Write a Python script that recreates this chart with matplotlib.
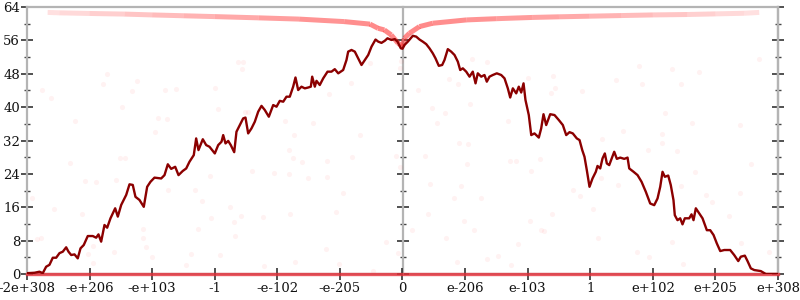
import matplotlib
matplotlib.use("Agg")
import matplotlib.pyplot as plt
from matplotlib.collections import LineCollection
import numpy as np

plt.rcParams['font.family'] = ['DejaVu Serif']

# x is in "ordinal" units: one unit per labelled tick, 0 in the middle
tick_pos = [-6, -5, -4, -3, -2, -1, 0, 1, 2, 3, 4, 5, 6]
tick_labels = ['-2e+308', '-e+206', '-e+103', '-1', '-e-102', '-e-205', '0',
               'e-206', 'e-103', '1', 'e+102', 'e+205', 'e+308']

# main dark red trace
walk_x = [-5.997, -5.880, -5.801, -5.748, -5.694, -5.641, -5.588, -5.534, -5.481, -5.428,
          -5.374, -5.337, -5.294, -5.241, -5.189, -5.145, -5.093, -5.029, -4.949, -4.895,
          -4.858, -4.815, -4.762, -4.719, -4.666, -4.629, -4.591, -4.549, -4.495, -4.415,
          -4.362, -4.310, -4.267, -4.203, -4.134, -4.080, -4.027, -3.963, -3.856, -3.803,
          -3.750, -3.696, -3.632, -3.579, -3.511, -3.456, -3.404, -3.335, -3.297, -3.260,
          -3.191, -3.137, -3.084, -3.031, -2.999, -2.945, -2.892, -2.865, -2.828, -2.785,
          -2.744, -2.689, -2.653, -2.600, -2.546, -2.509, -2.466, -2.413, -2.360, -2.306,
          -2.253, -2.200, -2.136, -2.066, -2.013, -1.961, -1.906, -1.854, -1.801, -1.747,
          -1.710, -1.667, -1.614, -1.561, -1.507, -1.465, -1.443, -1.401, -1.374, -1.322,
          -1.267, -1.198, -1.135, -1.082, -1.027, -0.948, -0.895, -0.868, -0.815, -0.762,
          -0.708, -0.655, -0.602, -0.548, -0.495, -0.431, -0.388, -0.336, -0.283, -0.240,
          -0.176, -0.123, -0.080, -0.027, 0.0, 0.032, 0.085, 0.165, 0.219, 0.272,
          0.324, 0.379, 0.431, 0.484, 0.527, 0.580, 0.634, 0.671, 0.724, 0.778,
          0.831, 0.884, 0.922, 0.964, 1.018, 1.071, 1.123, 1.167, 1.203, 1.258,
          1.310, 1.347, 1.390, 1.443, 1.507, 1.577, 1.630, 1.683, 1.721, 1.763,
          1.817, 1.858, 1.897, 1.934, 1.965, 2.018, 2.057, 2.109, 2.178, 2.216,
          2.253, 2.296, 2.360, 2.429, 2.498, 2.562, 2.616, 2.669, 2.721, 2.785,
          2.829, 2.872, 2.908, 2.945, 2.988, 3.036, 3.089, 3.116, 3.159, 3.196,
          3.233, 3.265, 3.303, 3.340, 3.383, 3.425, 3.479, 3.543, 3.596, 3.623,
          3.692, 3.756, 3.820, 3.888, 3.958, 4.022, 4.075, 4.118, 4.155, 4.192,
          4.246, 4.287, 4.330, 4.351, 4.394, 4.437, 4.474, 4.511, 4.581, 4.618,
          4.650, 4.687, 4.741, 4.794, 4.863, 4.917, 4.970, 5.022, 5.077, 5.141,
          5.236, 5.300, 5.365, 5.406, 5.470, 5.513, 5.566, 5.620, 5.725, 5.805, 6.0]
walk_y = [0.2, 0.3, 0.55, 0.2, 1.75, 2.2, 3.9, 3.9, 5.0, 5.35,
          6.4, 5.35, 4.55, 4.7, 3.75, 6.15, 6.95, 9.1, 9.1, 8.7,
          9.5, 7.75, 11.75, 11.1, 13.35, 14.55, 15.75, 13.75, 16.55, 18.95,
          21.5, 21.35, 18.5, 17.75, 16.1, 20.9, 22.1, 23.1, 22.9, 23.7,
          26.3, 25.2, 25.7, 23.7, 24.7, 25.3, 26.9, 28.5, 32.5, 29.7,
          32.3, 30.9, 30.5, 29.5, 28.9, 30.9, 31.7, 33.3, 31.3, 31.9,
          30.9, 29.2, 34.1, 35.7, 37.3, 37.5, 33.7, 34.9, 36.5, 38.9,
          40.3, 39.3, 37.7, 40.5, 40.1, 41.5, 41.3, 42.5, 42.5, 44.9,
          47.1, 44.1, 44.9, 44.5, 44.7, 44.9, 47.3, 44.9, 46.3, 45.3,
          46.9, 48.5, 48.5, 49.1, 48.1, 48.9, 51.3, 53.3, 53.7, 53.3,
          51.7, 50.1, 51.3, 52.5, 54.5, 56.2, 55.7, 55.4, 55.9, 56.5,
          56.1, 56.3, 55.7, 54.1, 54.0, 54.9, 55.7, 57.1, 56.9, 56.2,
          55.7, 55.1, 54.1, 52.9, 51.7, 49.9, 50.1, 51.3, 53.9, 53.3,
          52.5, 50.9, 48.9, 49.3, 48.5, 47.3, 48.5, 45.7, 48.1, 47.3,
          47.7, 46.1, 47.3, 47.7, 48.1, 47.7, 46.9, 44.5, 42.3, 44.5,
          43.3, 44.9, 43.5, 45.7, 41.7, 38.1, 33.3, 33.7, 32.7, 34.9,
          38.3, 35.7, 38.3, 38.1, 36.9, 35.7, 33.3, 34.0, 33.7, 32.5,
          32.1, 29.7, 28.1, 24.9, 20.9, 22.9, 24.5, 25.9, 25.3, 27.7,
          28.9, 26.5, 26.1, 27.6, 29.3, 27.6, 27.9, 27.6, 27.9, 25.3,
          24.5, 23.7, 22.1, 19.7, 16.9, 16.5, 18.1, 20.9, 24.5, 23.3,
          23.6, 21.3, 17.7, 14.1, 12.9, 13.35, 11.9, 13.35, 13.35, 14.3,
          12.9, 15.75, 14.55, 13.35, 10.5, 10.5, 9.35, 7.35, 5.5, 5.75,
          5.75, 4.55, 3.1, 4.15, 4.4, 3.1, 1.35, 0.95, 0.7, 0.0, 0.0]

# translucent red curve near the top
top_x = [-5.67, -5.48, -5.0, -4.44, -4.0, -3.5, -3.00, -2.3, -1.65, -0.93, -0.52, -0.39,
         -0.29, -0.18, -0.07, -0.03, 0.0, 0.03, 0.11, 0.27, 0.48, 1.02, 1.5, 2.08,
         2.5, 2.99, 3.5, 4.0, 4.55, 5.0, 5.46, 5.70]
top_y = [62.7, 62.6, 62.45, 62.3, 62.1, 61.9, 61.7, 61.4, 61.1, 60.5, 59.9, 58.9,
         58.5, 57.3, 55.3, 54.9, 54.5, 56.5, 57.7, 59.3, 60.1, 60.9, 61.2, 61.5,
         61.65, 61.8, 61.95, 62.1, 62.2, 62.35, 62.5, 62.7]

# red line along zero
base_x = [-6, 6]
base_y = [0, 0]

# faint background points
faint_x = [-4.72, -4.78, -4.24, -4.33, -5.76, -5.61, -4.49, -5.23, -3.90, -3.76,
           -3.80, -3.62, -3.95, -4.51, -4.43, -5.32, -5.07, -4.89, -4.57, -3.75,
           -3.31, -5.92, -5.57, -5.12, -4.15, -3.26, -5.84, -5.77, -4.15, -4.10,
           -4.95, -4.61, -5.03, -4.01, -3.38, -4.95, -3.46, -3.06, -3.20, -3.07,
           -3.00, -2.63, -2.55, -2.57, -2.95, -2.52, -2.47, -1.87, -1.73, -1.43,
           -1.18, -0.83, -0.52, -0.68, -1.82, -1.75, -1.61, -1.21, -0.81, -2.40,
           -2.05, -1.82, -1.51, -1.21, -0.95, -2.76, -2.58, -2.23, -1.79, -1.07,
           -2.69, -2.67, -0.10, -0.04, -0.04, -0.27, -1.23, -2.92, -2.21, -1.71,
           -1.01, -0.47, -0.07, 1.11, 1.35, 0.75, 0.89, 0.24, 1.08, 2.00,
           2.40, 2.44, 2.38, 2.87, 0.47, 0.68, 0.55, 1.69, 0.91, 1.04,
           0.36, 1.03, 1.71, 1.81, 2.19, 2.06, 0.44, 0.94, 2.73, 2.84,
           0.83, 1.26, 0.40, 2.39, 0.99, 1.15, 2.03, 2.21, 2.26, 0.15,
           0.70, 1.85, 0.87, 1.35, 1.53, 1.73, -0.02, 3.78, 4.31, 4.74,
           3.41, 3.82, 4.45, 4.20, 4.63, 5.39, 3.53, 4.14, 4.15, 3.18,
           3.92, 4.38, 5.57, 4.67, 3.17, 3.45, 4.45, 4.85, 4.95, 5.40,
           3.05, 5.22, 3.12, 4.30, 5.41, 3.74, 3.94, 5.86, 4.49, 5.70]
faint_y = [47.9, 45.6, 46.3, 43.9, 44.0, 42.3, 40.0, 36.7, 37.5, 37.2,
           44.2, 44.4, 34.0, 27.7, 27.7, 26.7, 22.4, 22.0, 22.5, 20.1,
           20.1, 18.3, 15.5, 14.5, 10.9, 10.8, 8.3, 8.6, 8.6, 6.4,
           6.8, 5.3, 4.7, 4.1, 4.7, 2.6, 2.2, 13.4, 17.5, 23.6,
           44.7, 50.9, 50.9, 49.1, 39.5, 38.8, 38.8, 36.7, 33.3, 36.1,
           43.1, 45.7, 50.5, 33.2, 29.7, 27.9, 26.8, 27.2, 28.1, 24.7,
           24.3, 23.9, 22.9, 23.2, 19.3, 16.1, 14.0, 13.6, 14.3, 14.9,
           12.4, 9.2, 28.4, 25.6, 49.3, 7.7, 5.9, 4.6, 2.0, 2.8,
           2.4, 0.6, 5.0, 51.5, 50.7, 46.7, 45.5, 44.1, 40.8, 46.9,
           47.5, 44.7, 43.3, 43.9, 39.9, 38.7, 36.3, 36.7, 31.5, 31.1,
           28.4, 26.3, 27.2, 27.2, 27.6, 24.7, 21.5, 21.2, 20.1, 18.8,
           18.1, 18.1, 14.3, 14.4, 12.7, 10.5, 12.7, 10.5, 10.3, 10.5,
           8.6, 7.3, 2.9, 3.7, 4.3, 2.1, 51.1, 49.9, 49.1, 48.3,
           46.5, 45.5, 45.5, 38.7, 36.3, 35.7, 34.3, 33.6, 31.3, 32.4,
           29.7, 29.6, 26.4, 24.5, 23.1, 21.3, 21.1, 18.9, 17.2, 19.3,
           15.5, 13.9, 8.6, 7.6, 7.5, 5.3, 4.1, 5.2, 2.5, 51.5]

fig = plt.figure(figsize=(8, 3), dpi=100)
ax = fig.add_axes([27 / 800, 1 - 274 / 300, 751 / 800, 267 / 300])

axis_gray = '#b4b4b4'

ax.scatter(faint_x, faint_y, s=14, color='#ff3030', alpha=0.06, linewidths=0, zorder=1)

# top curve: stronger near the middle, fading out toward both ends
pts = np.column_stack([top_x, top_y])
segs = np.stack([pts[:-1], pts[1:]], axis=1)
mid = np.abs((np.array(top_x[:-1]) + np.array(top_x[1:])) / 2)
alphas = 0.55 - 0.42 * (mid / 5.7) ** 1.3
seg_colors = [(1.0, 0.15, 0.15, a) for a in alphas]
ax.add_collection(LineCollection(segs, colors=seg_colors, linewidths=3.6,
                                 capstyle='butt', zorder=2))

ax.plot(base_x, base_y, color='#e8303a', alpha=0.8, lw=2.4, zorder=3, clip_on=False)
ax.plot(walk_x, walk_y, color='#8b0000', lw=1.7, zorder=5)

ax.set_xlim(-6, 6)
ax.set_ylim(0, 64)

ax.set_xticks(tick_pos)
ax.set_xticklabels(tick_labels)
ax.set_yticks(np.arange(0, 65, 8))
ax.set_yticks(np.arange(4, 64, 8), minor=True)

for side in ['left', 'top', 'right', 'bottom']:
    ax.spines[side].set_color(axis_gray)
    ax.spines[side].set_linewidth(1.6)
ax.spines['bottom'].set_zorder(0)

ax.tick_params(axis='both', which='major', direction='inout', length=8, width=1.1,
               color='#222222', labelsize=9.5, labelcolor='#111111')
ax.tick_params(axis='y', which='minor', direction='inout', length=4.5, width=1.0,
               color='#444444')
ax.tick_params(axis='x', pad=2)
ax.tick_params(axis='y', pad=1)

# middle and right vertical axes
for loc in [0.5, 1.0]:
    sec = ax.secondary_yaxis(loc)
    sec.set_yticks(np.arange(0, 65, 8))
    sec.set_yticks(np.arange(4, 64, 8), minor=True)
    sec.set_yticklabels([])
    sec.spines['right'].set_color(axis_gray)
    sec.spines['right'].set_linewidth(1.6)
    sec.tick_params(axis='y', which='major', direction='inout', length=8, width=1.1,
                    color='#222222')
    sec.tick_params(axis='y', which='minor', direction='inout', length=4.5, width=1.0,
                    color='#444444')

fig.savefig('out.png', dpi=100)
